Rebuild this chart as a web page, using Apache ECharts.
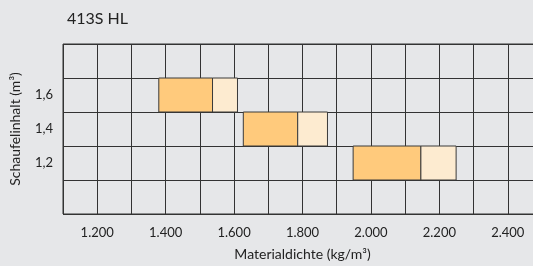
<!DOCTYPE html>
<html>
<head>
<meta charset="utf-8">
<script src="https://cdn.jsdelivr.net/npm/echarts@6/dist/echarts.min.js"></script>
<style>
  html, body { margin: 0; padding: 0; background: #e6e7e9; }
  #chart { width: 533px; height: 266px; }
</style>
</head>
<body>
<div id="chart"></div>
<script>
// Schaufelinhalt-Zeilen (von unten nach oben), leere Zeilen oben und unten
var yCategories = ['', '1,2', '1,4', '1,6', ' '];
// Materialdichte pro Schaufel: Beginn, Ende voller Bereich, Ende heller Bereich
var capacities = ['1,2', '1,4', '1,6'];
var densityStart = [1948, 1627, 1380];
var densityMid = [2146, 1786, 1537];
var densityEnd = [2249, 1873, 1610];

var xMin = 1100, xMax = 2500, xStep = 100;

var rows = capacities.map(function (c, i) {
  return [yCategories.indexOf(c), densityStart[i], densityMid[i], densityEnd[i]];
});

var chart = echarts.init(document.getElementById('chart'));
var fontFamily = 'Lato, "DejaVu Sans", sans-serif';

chart.setOption({
  backgroundColor: '#e6e7e9',
  animation: false,
  title: {
    text: '413S HL',
    left: 62,
    top: 6,
    textStyle: { fontFamily: fontFamily, fontSize: 16, fontWeight: 'normal', color: '#222' }
  },
  grid: {
    left: 63,
    top: 44,
    height: 170,
    width: 479,
    outerBoundsMode: 'none',
    containLabel: false,
    show: true,
    borderColor: '#333',
    borderWidth: 1
  },
  xAxis: {
    type: 'value',
    min: xMin,
    max: xMax,
    interval: xStep,
    name: 'Materialdichte (kg/m³)',
    nameLocation: 'middle',
    nameGap: 33,
    nameTextStyle: { fontFamily: fontFamily, fontSize: 14, color: '#222' },
    axisLine: { show: false },
    axisTick: { show: false },
    splitLine: { show: true, lineStyle: { color: '#333', width: 1 } },
    axisLabel: {
      margin: 12,
      fontFamily: fontFamily,
      fontSize: 13,
      color: '#222',
      formatter: function (v) {
        if (v % 200 !== 0 || v <= xMin || v >= xMax) return '';
        var s = String(v);
        return s.slice(0, s.length - 3) + '.' + s.slice(-3);
      }
    }
  },
  yAxis: {
    type: 'category',
    data: yCategories,
    boundaryGap: true,
    name: 'Schaufelinhalt (m³)',
    nameLocation: 'middle',
    nameGap: 41,
    nameTextStyle: { fontFamily: fontFamily, fontSize: 14, color: '#222' },
    axisLine: { show: false },
    axisTick: { show: false },
    splitLine: { show: true, lineStyle: { color: '#333', width: 1 } },
    axisLabel: { margin: 10, fontFamily: fontFamily, fontSize: 13, color: '#222' }
  },
  series: [{
    type: 'custom',
    data: rows,
    encode: { x: [1, 2, 3], y: 0 },
    renderItem: function (params, api) {
      var y = api.value(0);
      var a = api.coord([api.value(1), y]);
      var b = api.coord([api.value(2), y]);
      var c = api.coord([api.value(3), y]);
      var h = api.size([0, 1])[1];
      var top = a[1] - h / 2;
      return {
        type: 'group',
        children: [
          {
            type: 'rect',
            shape: { x: a[0], y: top, width: b[0] - a[0], height: h },
            style: { fill: '#ffca7c', stroke: '#3a3a3a', lineWidth: 1 }
          },
          {
            type: 'rect',
            shape: { x: b[0], y: top, width: c[0] - b[0], height: h },
            style: { fill: '#fdebd0', stroke: '#3a3a3a', lineWidth: 1 }
          }
        ]
      };
    }
  }]
});
</script>
</body>
</html>
